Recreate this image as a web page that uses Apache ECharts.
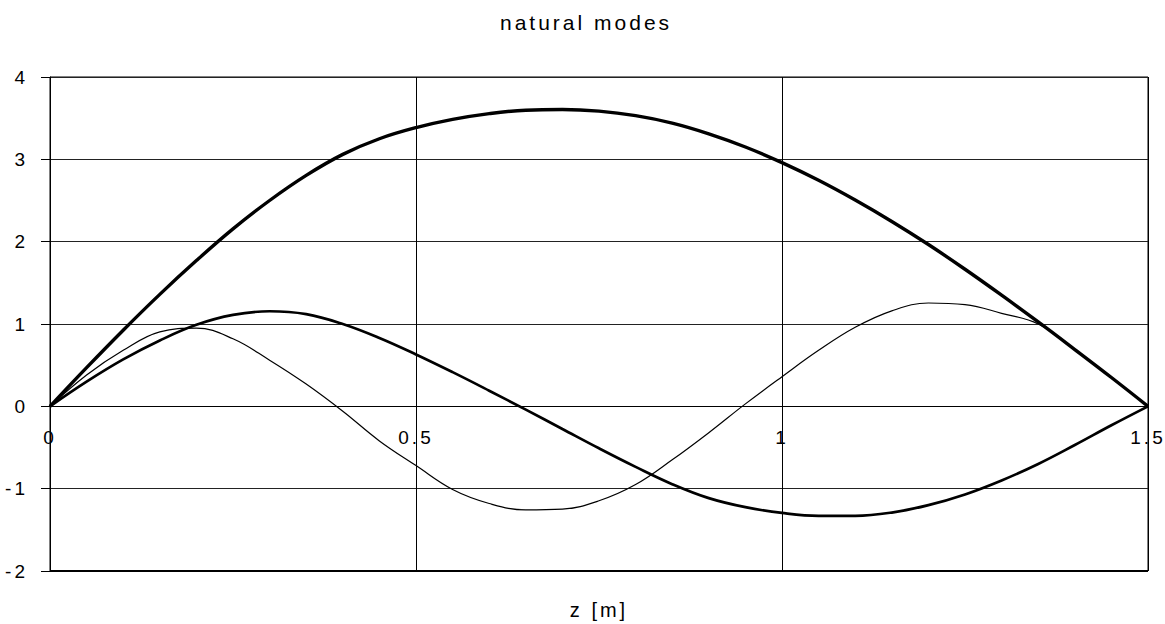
<!DOCTYPE html>
<html>
<head>
<meta charset="utf-8">
<script src="https://cdn.jsdelivr.net/npm/echarts@6/dist/echarts.min.js"></script>
<style>
  html, body { margin: 0; padding: 0; background: #fff; }
  #chart { width: 1165px; height: 624px; }
  /* spaced-out lettering for every label drawn by the SVG renderer */
  #chart text { letter-spacing: 3px; }
</style>
</head>
<body>
<div id="chart"></div>
<script>
// positions along the beam, z in metres
const zPositions = [0, 0.05, 0.1, 0.15, 0.2, 0.25, 0.3, 0.35, 0.4, 0.45, 0.5,
                    0.55, 0.6, 0.65, 0.7, 0.75, 0.8, 0.85, 0.9, 0.95, 1.0,
                    1.05, 1.1, 1.15, 1.2, 1.25, 1.3, 1.35, 1.4, 1.45, 1.5];

// first natural mode
const mode1 = [0, 0.47, 0.925, 1.36, 1.77, 2.155, 2.5, 2.805, 3.06, 3.25, 3.385,
               3.485, 3.555, 3.597, 3.605, 3.585, 3.53, 3.44, 3.31, 3.15, 2.96,
               2.745, 2.505, 2.245, 1.965, 1.665, 1.35, 1.025, 0.69, 0.35, 0];

// second natural mode
const mode2 = [0, 0.3, 0.57, 0.8, 0.99, 1.11, 1.155, 1.12, 1.0, 0.83, 0.63,
               0.415, 0.19, -0.04, -0.275, -0.51, -0.735, -0.945, -1.115, -1.225, -1.295,
               -1.33, -1.33, -1.29, -1.2, -1.07, -0.9, -0.7, -0.47, -0.23, 0];

// third natural mode
const mode3 = [0, 0.38, 0.68, 0.905, 0.95, 0.82, 0.56, 0.27, -0.06, -0.42, -0.72,
               -1.01, -1.18, -1.258, -1.248, -1.147, -0.95, -0.65, -0.32, 0.03, 0.36,
               0.68, 0.96, 1.16, 1.255, 1.235, 1.13, 1.0, 0.69, 0.35, 0];

const xMin = 0, xMax = 1.5, xStep = 0.5;
const yMin = -2, yMax = 4, yStep = 1;

const FONT = 'Liberation Sans, Arial, sans-serif';

const GRID = { left: 50, right: 17, top: 77, bottom: 53 };
const CHART_H = 624;
// the z axis runs along the zero line of the value axis
const plotHeight = CHART_H - GRID.top - GRID.bottom;
const zeroLift = plotHeight * (0 - yMin) / (yMax - yMin);

function pairs(values) {
  return zPositions.map((z, i) => [z, values[i]]);
}

const chart = echarts.init(document.getElementById('chart'), null, { renderer: 'svg' });

chart.setOption({
  backgroundColor: '#ffffff',
  animation: false,
  title: {
    text: 'natural modes',
    left: 495,
    top: 7,
    textStyle: { fontFamily: FONT, fontSize: 21, fontWeight: 'normal', color: '#000' }
  },
  grid: {
    left: GRID.left, right: GRID.right, top: GRID.top, bottom: GRID.bottom,
    outerBoundsMode: 'none',
    containLabel: false,
    show: true, borderColor: '#000', borderWidth: 1, backgroundColor: 'transparent'
  },
  xAxis: {
    type: 'value',
    min: xMin, max: xMax, interval: xStep,
    offset: -zeroLift,
    name: 'z [m]',
    nameLocation: 'middle',
    nameGap: 194,
    nameTextStyle: { fontFamily: FONT, fontSize: 20, color: '#000' },
    axisLine: { show: true, onZero: false, lineStyle: { color: '#000', width: 1 } },
    axisTick: { show: false },
    axisLabel: { margin: 22, color: '#000', fontFamily: FONT, fontSize: 19 },
    splitLine: { show: true, lineStyle: { color: '#000', width: 1 } }
  },
  yAxis: {
    type: 'value',
    min: yMin, max: yMax, interval: yStep,
    axisLine: { show: true, onZero: false, lineStyle: { color: '#000', width: 1 } },
    axisTick: { show: true, inside: false, length: 9, lineStyle: { color: '#000' } },
    axisLabel: { margin: 22, color: '#000', fontFamily: FONT, fontSize: 19 },
    splitLine: { show: true, lineStyle: { color: '#222', width: 1 } }
  },
  series: [
    {
      name: 'mode 1', type: 'line', data: pairs(mode1),
      smooth: 0.4, showSymbol: false, symbol: 'none',
      lineStyle: { color: '#000', width: 3.4 },
      // heavier frame edge along the lower bound of the value axis
      markLine: {
        silent: true, symbol: 'none', label: { show: false },
        lineStyle: { color: '#000', width: 2, type: 'solid' },
        data: [{ yAxis: yMin }]
      }
    },
    {
      name: 'mode 2', type: 'line', data: pairs(mode2),
      smooth: 0.4, showSymbol: false, symbol: 'none',
      lineStyle: { color: '#000', width: 2.7 }
    },
    {
      name: 'mode 3', type: 'line', data: pairs(mode3),
      smooth: 0.4, showSymbol: false, symbol: 'none',
      lineStyle: { color: '#000', width: 1.2 }
    }
  ]
});
</script>
</body>
</html>
